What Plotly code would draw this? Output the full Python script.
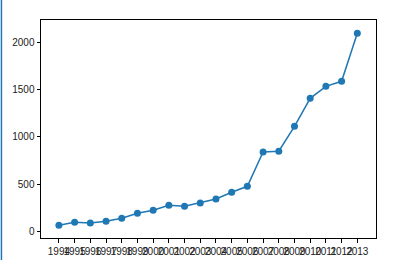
import plotly.graph_objects as go

years = [1994, 1995, 1996, 1997, 1998, 1999, 2000, 2001, 2002, 2003,
         2004, 2005, 2006, 2007, 2008, 2009, 2010, 2011, 2012, 2013]
values = [63, 95, 88, 106, 138, 190, 222, 275, 265, 300,
          342, 413, 476, 840, 847, 1111, 1407, 1534, 1587, 2095]
ytick_vals = [0, 500, 1000, 1500, 2000]

fig = go.Figure()
fig.add_trace(go.Scatter(
    x=years, y=values, mode="lines+markers",
    line=dict(color="#1f77b4", width=1.5),
    marker=dict(color="#1f77b4", size=7),
    showlegend=False,
))

axis_common = dict(
    showgrid=False, zeroline=False, showline=True, linecolor="black",
    linewidth=1, mirror=True, ticks="outside", ticklen=3.5, tickwidth=0.8,
    tickcolor="black", automargin=False,
    tickfont=dict(family="Liberation Sans, Arial", size=10, color="#222"),
)
fig.update_xaxes(range=[1992.86, 2014.19], tickmode="array", tickvals=years,
                 ticktext=[str(y) for y in years], tickangle=0, **axis_common)
fig.update_yaxes(range=[-71, 2236], tickmode="array", tickvals=ytick_vals,
                 ticktext=[str(v) for v in ytick_vals], **axis_common)

fig.add_shape(type="line", xref="paper", yref="paper",
              x0=(1.5 - 41) / 334.5, x1=(1.5 - 41) / 334.5, y0=-0.2, y1=1.2,
              line=dict(color="#1f77b4", width=1.5))

fig.update_layout(
    width=411, height=260,
    margin=dict(l=41, r=35, t=20, b=22, autoexpand=False),
    paper_bgcolor="white", plot_bgcolor="white",
)
fig.write_html("out.html")
